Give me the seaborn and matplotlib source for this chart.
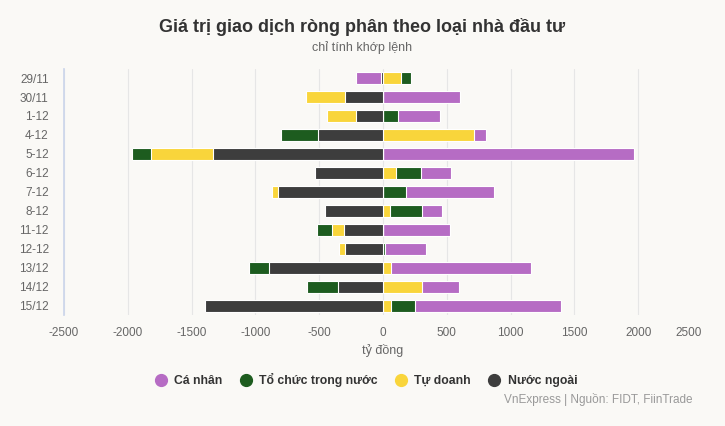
import pandas as pd
import seaborn as sns
import matplotlib.pyplot as plt
from matplotlib.lines import Line2D

# dữ liệu (tỷ đồng)
ngay = ["29/11", "30/11", "1-12", "4-12", "5-12", "6-12", "7-12",
        "8-12", "11-12", "12-12", "13/12", "14/12", "15/12"]
ca_nhan = [-200, 605, 326, 87, 1971, 228, 685, 156, 522, 320, 1094, 286, 1148]
to_chuc = [80, 0, 120, -293, -156, 203, 181, 246, -116, 15, -159, -243, 188]
tu_doanh = [138, -305, -232, 717, -485, 98, -47, 58, -94, -40, 62, 308, 62]
nuoc_ngoai = [-12, -300, -210, -507, -1330, -529, -819, -456, -308, -301, -891, -351, -1398]
x_ticks = [-2500, -2000, -1500, -1000, -500, 0, 500, 1000, 1500, 2000, 2500]

mau = {"Cá nhân": "#b66cc4", "Tổ chức trong nước": "#1d5c1f",
       "Tự doanh": "#f9d53b", "Nước ngoài": "#3d3d3d"}

df = pd.DataFrame({"Cá nhân": ca_nhan, "Tổ chức trong nước": to_chuc,
                   "Tự doanh": tu_doanh, "Nước ngoài": nuoc_ngoai}, index=ngay)

# thứ tự chồng từ trục 0 ra ngoài
thu_tu = ["Nước ngoài", "Tự doanh", "Tổ chức trong nước", "Cá nhân"]
duong = df[thu_tu].clip(lower=0).cumsum(axis=1)
am = df[thu_tu].clip(upper=0).cumsum(axis=1)
dau_mut = duong.where(df[thu_tu] >= 0, am).where(df[thu_tu] != 0, 0)

sns.set_theme(style="white")
plt.rcParams["font.family"] = ["Liberation Sans", "DejaVu Sans"]
nen = "#faf9f6"

fig = plt.figure(figsize=(7.25, 4.26), dpi=100, facecolor=nen)
ax = fig.add_axes([64 / 725, 0.2594, 638 / 725, 0.5798], facecolor=nen)
ax.set_axisbelow(True)

# vẽ từ lớp ngoài vào trong, lớp trong đè lên
for ten in reversed(thu_tu):
    sns.barplot(x=dau_mut[ten].values, y=ngay, orient="h", color=mau[ten],
                saturation=1, width=0.63, edgecolor="white", linewidth=0.8, ax=ax)

ax.set_xlim(-2500, 2500)
ax.set_xticks(x_ticks)
ax.set_xticklabels([str(v) for v in x_ticks])
ax.xaxis.grid(True, color="#e6e6e6", linewidth=0.8)
ax.get_xgridlines()[-1].set_visible(False)
ax.get_xticklabels()[-1].set_horizontalalignment("right")
ax.yaxis.grid(False)
for s in ["top", "right", "bottom"]:
    ax.spines[s].set_visible(False)
ax.spines["left"].set_color("#ccd6eb")
ax.tick_params(axis="x", length=0, labelsize=8.5, labelcolor="#666666", pad=8)
ax.tick_params(axis="y", length=0, labelsize=8.5, labelcolor="#666666", pad=11)
ax.set_ylabel("")
ax.set_xlabel("tỷ đồng", fontsize=9, color="#666666", labelpad=4)

fig.text(0.5, 1 - 27 / 426, "Giá trị giao dịch ròng phân theo loại nhà đầu tư",
         ha="center", va="center", fontsize=13, fontweight="bold", color="#333333")
fig.text(0.5, 1 - 48 / 426, "chỉ tính khớp lệnh", ha="center", va="center",
         fontsize=9, color="#666666")

handles = [Line2D([], [], marker="o", linestyle="", markersize=8.5,
                  markerfacecolor=mau[t], markeredgecolor=mau[t])
           for t in ["Cá nhân", "Tổ chức trong nước", "Tự doanh", "Nước ngoài"]]
leg = fig.legend(handles, ["Cá nhân", "Tổ chức trong nước", "Tự doanh", "Nước ngoài"],
                 loc="center", bbox_to_anchor=(366 / 725, 1 - 380 / 426), ncol=4,
                 frameon=False, handlelength=1.0, handletextpad=0.6, columnspacing=1.4,
                 prop={"size": 8.8, "weight": "bold"})
for t in leg.get_texts():
    t.set_color("#333333")

fig.text(692 / 725, 1 - 400 / 426, "VnExpress | Nguồn: FIDT, FiinTrade",
         ha="right", va="center", fontsize=8.5, color="#999999")

fig.savefig("out.png", dpi=100, facecolor=nen)
